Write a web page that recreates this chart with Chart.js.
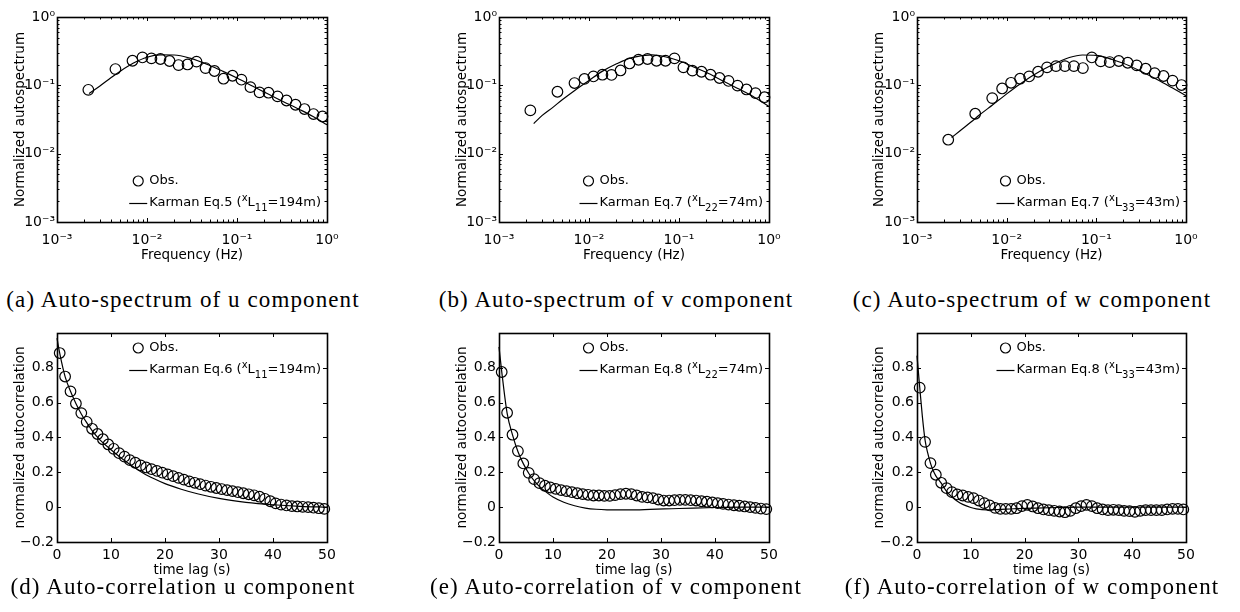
<!DOCTYPE html>
<html>
<head>
<meta charset="utf-8">
<script src="https://cdn.jsdelivr.net/npm/chart.js@4.4.1/dist/chart.umd.min.js"></script>
<style>
  body { margin: 0; background: #fff; width: 1240px; height: 612px; overflow: hidden; position: relative; }
  canvas { position: absolute; }
  .cap { position: absolute; font-family: "Liberation Serif", "Times New Roman", serif; font-size: 23px;
         letter-spacing: 1.1px; line-height: 26px; white-space: nowrap; transform: translateX(-50%); color: #000; }
</style>
</head>
<body>
<canvas id="ca" width="340" height="270" style="left:0px;top:0px"></canvas>
<canvas id="cb" width="340" height="270" style="left:442px;top:0px"></canvas>
<canvas id="cc" width="340" height="270" style="left:859px;top:0px"></canvas>
<canvas id="cd" width="340" height="268" style="left:0px;top:318px"></canvas>
<canvas id="ce" width="340" height="268" style="left:442px;top:318px"></canvas>
<canvas id="cf" width="340" height="268" style="left:859px;top:318px"></canvas>
<div id="caps"></div>
<script>
// spectrum observations (shared frequencies, Hz)
const freq = [0.00223, 0.00446, 0.0069, 0.0089, 0.0112, 0.0141, 0.0178, 0.0224, 0.0282, 0.0355, 0.0447, 0.0562,
  0.0708, 0.0891, 0.112, 0.141, 0.178, 0.224, 0.282, 0.355, 0.447, 0.562, 0.708, 0.891];
const specObsU = [0.086, 0.173, 0.229, 0.256, 0.248, 0.243, 0.227, 0.198, 0.202, 0.222, 0.179, 0.162,
  0.125, 0.138, 0.121, 0.094, 0.079, 0.078, 0.069, 0.060, 0.052, 0.045, 0.038, 0.035];
const specObsV = [0.043, 0.0805, 0.108, 0.124, 0.135, 0.143, 0.142, 0.165, 0.209, 0.237, 0.243, 0.229,
  0.229, 0.248, 0.183, 0.164, 0.158, 0.143, 0.128, 0.116, 0.099, 0.087, 0.077, 0.067];
const specObsW = [0.016, 0.0384, 0.065, 0.090, 0.109, 0.125, 0.135, 0.158, 0.183, 0.191, 0.191, 0.191,
  0.179, 0.256, 0.224, 0.219, 0.227, 0.214, 0.196, 0.175, 0.151, 0.137, 0.117, 0.101];

// karman spectra
const karmanFreqU = [0.00227, 0.003, 0.004, 0.005, 0.007, 0.01, 0.014, 0.02, 0.03, 0.05, 0.07, 0.1, 0.15, 0.2, 0.3, 0.5, 0.7, 1.0];
const karmanSpecU = [0.076, 0.098, 0.13, 0.16, 0.21, 0.258, 0.279, 0.278, 0.25, 0.195, 0.16, 0.128, 0.097, 0.08, 0.061, 0.044, 0.035, 0.0265];
const karmanFreqVW = [0.00243, 0.003, 0.004, 0.005, 0.007, 0.01, 0.014, 0.02, 0.03, 0.05, 0.07, 0.1, 0.15, 0.2, 0.3, 0.5, 0.7, 1.0];
const karmanSpecV = [0.0275, 0.036, 0.048, 0.061, 0.085, 0.118, 0.16, 0.205, 0.255, 0.279, 0.262, 0.229, 0.183, 0.155, 0.118, 0.084, 0.066, 0.049];
const karmanSpecW = [0.0172, 0.0215, 0.029, 0.037, 0.052, 0.075, 0.104, 0.142, 0.19, 0.255, 0.278, 0.274, 0.239, 0.21, 0.165, 0.118, 0.092, 0.0704];

// autocorrelation observations (time lag, s)
const lagObs = [0.5, 1.5, 2.5, 3.5, 4.5, 5.5, 6.5, 7.5, 8.5, 9.5, 10.5, 11.5, 12.5, 13.5, 14.5, 15.5, 16.5, 17.5, 18.5, 19.5,
  20.5, 21.5, 22.5, 23.5, 24.5, 25.5, 26.5, 27.5, 28.5, 29.5, 30.5, 31.5, 32.5, 33.5, 34.5, 35.5, 36.5, 37.5, 38.5, 39.5,
  40.5, 41.5, 42.5, 43.5, 44.5, 45.5, 46.5, 47.5, 48.5, 49.5];
const corrObsU = [0.885, 0.75, 0.665, 0.595, 0.54, 0.49, 0.45, 0.42, 0.39, 0.36,
  0.335, 0.31, 0.29, 0.27, 0.255, 0.24, 0.228, 0.218, 0.208, 0.198,
  0.188, 0.178, 0.168, 0.158, 0.148, 0.14, 0.132, 0.124, 0.117, 0.11,
  0.104, 0.098, 0.092, 0.086, 0.08, 0.074, 0.068, 0.06, 0.048, 0.034,
  0.022, 0.015, 0.01, 0.006, 0.004, 0.002, 0.0, -0.003, -0.006, -0.01];
const corrObsV = [0.776, 0.542, 0.416, 0.322, 0.251, 0.197, 0.161, 0.138, 0.123, 0.113,
  0.105, 0.098, 0.092, 0.086, 0.080, 0.075, 0.071, 0.067, 0.067, 0.065,
  0.065, 0.069, 0.075, 0.077, 0.075, 0.067, 0.059, 0.056, 0.052, 0.044,
  0.038, 0.038, 0.040, 0.042, 0.042, 0.040, 0.038, 0.034, 0.031, 0.027,
  0.023, 0.019, 0.015, 0.011, 0.008, 0.004, 0.0, -0.004, -0.008, -0.011];
const corrObsW = [0.686, 0.375, 0.253, 0.186, 0.14, 0.109, 0.086, 0.073, 0.067, 0.059,
  0.052, 0.038, 0.023, 0.01, -0.004, -0.01, -0.01, -0.01, -0.006, 0.006,
  0.013, 0.004, -0.006, -0.013, -0.017, -0.021, -0.025, -0.029, -0.021, -0.006,
  0.006, 0.013, 0.006, -0.006, -0.013, -0.017, -0.015, -0.017, -0.021, -0.023,
  -0.027, -0.021, -0.017, -0.017, -0.017, -0.017, -0.013, -0.01, -0.01, -0.013];

// karman autocorrelation curves
const karmanLagU = [0, 0.5, 1.5, 2.5, 3.5, 4.5, 5.5, 6.5, 8, 10, 12, 14, 16, 18, 20, 23, 26, 30, 35, 40, 45, 50];
const karmanCorrU = [0.97, 0.885, 0.75, 0.665, 0.595, 0.535, 0.485, 0.44, 0.385, 0.33, 0.28, 0.235, 0.195, 0.163, 0.135, 0.103, 0.077, 0.05, 0.028, 0.014, 0.005, 0.0];
const karmanLagV = [0, 0.5, 1.5, 2.5, 3.5, 4.5, 5.5, 6.5, 7.5, 8.5, 10, 12, 14, 16, 18, 20, 24, 28, 32, 36, 40, 45, 50];
const karmanCorrV = [0.92, 0.78, 0.54, 0.415, 0.32, 0.25, 0.195, 0.152, 0.118, 0.092, 0.058, 0.028, 0.008, -0.005, -0.012, -0.015, -0.016, -0.013, -0.009, -0.005, -0.002, 0.0, 0.0];
const karmanLagW = [0, 0.5, 1, 1.5, 2, 2.5, 3, 3.5, 4.5, 5.5, 6.5, 7.5, 8.5, 10, 11, 13, 15, 18, 22, 26, 30, 40, 50];
const karmanCorrW = [0.87, 0.69, 0.52, 0.385, 0.31, 0.253, 0.21, 0.18, 0.138, 0.09, 0.058, 0.034, 0.016, -0.002, -0.01, -0.016, -0.014, -0.009, -0.005, -0.002, 0.0, 0.0, 0.0];

// ticks and labels
const specTicks = [0.001, 0.01, 0.1, 1];
const specTickLabels = ['10\u207B\u00B3', '10\u207B\u00B2', '10\u207B\u00B9', '10\u2070'];
const lagTicks = [0, 10, 20, 30, 40, 50];
const corrTicks = [-0.2, 0, 0.2, 0.4, 0.6, 0.8];
const corrTickLabels = ['\u22120.2', '0', '0.2', '0.4', '0.6', '0.8'];
const obsLabel = 'Obs.';
const karmanLabels = [
  'Karman Eq.5 (\u02E3L\u2081\u2081=194m)', 'Karman Eq.7 (\u02E3L\u2082\u2082=74m)', 'Karman Eq.7 (\u02E3L\u2083\u2083=43m)',
  'Karman Eq.6 (\u02E3L\u2081\u2081=194m)', 'Karman Eq.8 (\u02E3L\u2082\u2082=74m)', 'Karman Eq.8 (\u02E3L\u2083\u2083=43m)'];
const captions = [
  '(a) Auto-spectrum of u component', '(b) Auto-spectrum of v component', '(c) Auto-spectrum of w component',
  '(d) Auto-correlation u component', '(e) Auto-correlation of v component', '(f) Auto-correlation of w component'];

const FONT = 'DejaVu Sans';

// box round the plot with inward ticks (matlab look)
const frame = {
  id: 'frame',
  afterDatasetsDraw(chart) {
    const { ctx, chartArea: a } = chart;
    ctx.save();
    ctx.strokeStyle = '#000';
    ctx.lineWidth = 1;
    function mark(sc, v, len) {
      const p = Math.round(sc.getPixelForValue(v)) + 0.5;
      ctx.beginPath();
      if (sc.isHorizontal()) {
        ctx.moveTo(p, a.bottom); ctx.lineTo(p, a.bottom - len);
        ctx.moveTo(p, a.top); ctx.lineTo(p, a.top + len);
      } else {
        ctx.moveTo(a.left, p); ctx.lineTo(a.left + len, p);
        ctx.moveTo(a.right, p); ctx.lineTo(a.right - len, p);
      }
      ctx.stroke();
    }
    [chart.scales.x, chart.scales.y].forEach(sc => {
      sc.ticks.forEach(t => mark(sc, t.value, 4));
      if (sc.type === 'logarithmic') {
        for (let e = -3; e < 0; e++) {
          for (let m = 2; m < 10; m++) mark(sc, m * Math.pow(10, e), 2.5);
        }
      }
    });
    ctx.lineWidth = 1.6;
    ctx.strokeRect(a.left + 0.5, a.top + 0.5, a.right - a.left, a.bottom - a.top);
    ctx.restore();
  }
};

// split a label into pieces so sub/superscripts get a smaller, shifted font
function pieces(text) {
  const out = [];
  for (const ch of text) {
    let p;
    if (ch === '\u02E3') p = { t: 'x', size: 10, dy: -5 };
    else if (ch >= '\u2080' && ch <= '\u2089') p = { t: String(ch.charCodeAt(0) - 0x2080), size: 10, dy: 5 };
    else p = { t: ch, size: 13, dy: 0 };
    const last = out[out.length - 1];
    if (last && last.size === p.size && last.dy === p.dy) last.t += p.t;
    else out.push(p);
  }
  return out;
}

function richWidth(ctx, parts) {
  let w = 0;
  parts.forEach(p => { ctx.font = p.size + 'px "' + FONT + '"'; w += ctx.measureText(p.t).width; });
  return w;
}

function richText(ctx, parts, x, y) {
  parts.forEach(p => {
    ctx.font = p.size + 'px "' + FONT + '"';
    ctx.fillText(p.t, x, y + p.dy);
    x += ctx.measureText(p.t).width;
  });
}

// legend drawn inside the plot, right aligned
const innerLegend = {
  id: 'innerLegend',
  afterDraw(chart, args, opts) {
    const { ctx, chartArea: a } = chart;
    const ds = chart.data.datasets;
    ctx.save();
    ctx.textBaseline = 'middle';
    ctx.fillStyle = '#000';
    ctx.strokeStyle = '#000';
    const parts = pieces(ds[1].label);
    const w = richWidth(ctx, parts);
    const x0 = a.right - 6 - w;
    const y1 = opts.fromTop ? a.top + opts.row1 : a.bottom - opts.row1;
    const y2 = y1 + 22;
    ctx.lineWidth = 1.2;
    ctx.beginPath();
    ctx.arc(x0 - 11, y1, 5, 0, Math.PI * 2);
    ctx.stroke();
    richText(ctx, pieces(ds[0].label), x0, y1);
    ctx.beginPath();
    ctx.moveTo(x0 - 20, y2 + 0.5); ctx.lineTo(x0 - 2, y2 + 0.5);
    ctx.stroke();
    richText(ctx, parts, x0, y2);
    ctx.restore();
  }
};

function pts(xs, ys) {
  return xs.map((v, i) => ({ x: v, y: ys[i] }));
}

function makeChart(id, kind, obsX, obsY, modX, modY, label) {
  const spec = kind === 'spec';
  const xAxis = spec ? {
    type: 'logarithmic', min: 0.001, max: 1,
    afterBuildTicks: s => { s.ticks = specTicks.map(v => ({ value: v })); },
    ticks: { callback: v => specTickLabels[specTicks.indexOf(v)], padding: 10 },
    title: { display: true, text: 'Frequency (Hz)', font: { family: FONT, size: 13.5 }, color: '#000', padding: { top: 0, bottom: 6 } }
  } : {
    type: 'linear', min: 0, max: 50,
    afterBuildTicks: s => { s.ticks = lagTicks.map(v => ({ value: v })); },
    ticks: { callback: v => String(v), padding: 5 },
    title: { display: true, text: 'time lag (s)', font: { family: FONT, size: 13.5 }, color: '#000', padding: { top: 0, bottom: 7 } }
  };
  const yAxis = spec ? {
    type: 'logarithmic', min: 0.001, max: 1,
    afterBuildTicks: s => { s.ticks = specTicks.map(v => ({ value: v })); },
    ticks: { callback: v => specTickLabels[specTicks.indexOf(v)], padding: 2 },
    title: { display: true, text: 'Normalized autospectrum', font: { family: FONT, size: 13.5 }, color: '#000', padding: { top: 12, bottom: 0 } }
  } : {
    type: 'linear', min: -0.2, max: 1,
    afterBuildTicks: s => { s.ticks = corrTicks.map(v => ({ value: v })); },
    ticks: { callback: v => corrTickLabels[corrTicks.indexOf(v)], padding: 3 },
    title: { display: true, text: 'normalized autocorrelation', font: { family: FONT, size: 13.5 }, color: '#000', padding: { top: 12, bottom: 0 } }
  };
  [xAxis, yAxis].forEach(ax => {
    ax.grid = { display: false, drawTicks: false };
    ax.border = { display: false };
    ax.ticks.font = { family: FONT, size: 14 };
    ax.ticks.color = '#000';
    ax.ticks.autoSkip = false;
    ax.ticks.maxRotation = 0;
  });
  // fixed axis boxes so the plot area lands where the reference has it
  xAxis.afterFit = s => { s.height = spec ? 48 : 44; s.paddingLeft = 0; s.paddingRight = 0; };
  yAxis.afterFit = s => { s.width = id === 'cc' || id === 'cf' ? 58 : 57; s.paddingTop = 0; s.paddingBottom = 0; };

  return new Chart(document.getElementById(id), {
    type: 'scatter',
    data: {
      datasets: [
        { label: obsLabel, data: pts(obsX, obsY), showLine: false, pointStyle: 'circle', pointRadius: 5.3,
          pointBorderWidth: 1.2, pointBorderColor: '#000', pointBackgroundColor: 'rgba(0,0,0,0)', clip: false },
        { label: label, data: pts(modX, modY), showLine: true, borderColor: '#000', borderWidth: 1.2,
          pointRadius: 0, cubicInterpolationMode: 'monotone', clip: false }
      ]
    },
    options: {
      responsive: false, animation: false, devicePixelRatio: 1,
      layout: { padding: { top: spec ? 17 : 15, right: 13, left: 0, bottom: 0 } },
      plugins: {
        legend: { display: false }, tooltip: { enabled: false },
        innerLegend: spec ? { fromTop: false, row1: 41 } : { fromTop: true, row1: 15 }
      },
      scales: { x: xAxis, y: yAxis }
    },
    plugins: [frame, innerLegend]
  });
}

makeChart('ca', 'spec', freq, specObsU, karmanFreqU, karmanSpecU, karmanLabels[0]);
makeChart('cb', 'spec', freq, specObsV, karmanFreqVW, karmanSpecV, karmanLabels[1]);
makeChart('cc', 'spec', freq, specObsW, karmanFreqVW, karmanSpecW, karmanLabels[2]);
makeChart('cd', 'corr', lagObs, corrObsU, karmanLagU, karmanCorrU, karmanLabels[3]);
makeChart('ce', 'corr', lagObs, corrObsV, karmanLagV, karmanCorrV, karmanLabels[4]);
makeChart('cf', 'corr', lagObs, corrObsW, karmanLagW, karmanCorrW, karmanLabels[5]);

// captions under each panel
const capX = [183, 616, 1032];
const capY = [287, 574];
const capBox = document.getElementById('caps');
captions.forEach((t, i) => {
  const d = document.createElement('div');
  d.className = 'cap';
  d.textContent = t;
  d.style.left = capX[i % 3] + 'px';
  d.style.top = capY[Math.floor(i / 3)] + 'px';
  capBox.appendChild(d);
});
</script>
</body>
</html>
